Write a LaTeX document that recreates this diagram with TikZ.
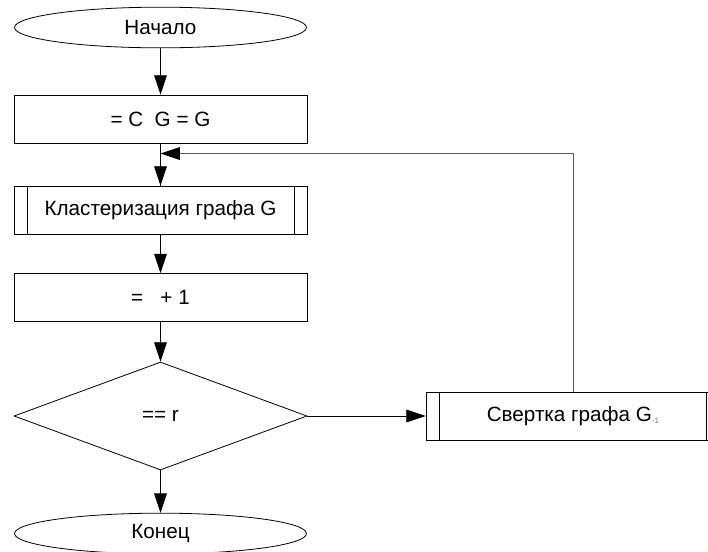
\documentclass[tikz,border=0pt]{standalone}
\usepackage{fontspec}
\setmainfont{Liberation Sans}
\usetikzlibrary{shapes.geometric,arrows.meta}
\begin{document}
\begin{tikzpicture}[x=0.75pt,y=-0.75pt,
  every node/.style={font=\fontsize{15.5}{17}\selectfont, inner sep=0pt},
  term/.style={draw, ellipse, minimum width=219pt, minimum height=30.5pt, line width=0.6pt},
  procbox/.style={draw, rectangle, minimum width=219.75pt, minimum height=36pt, line width=0.6pt},
  decis/.style={draw, diamond, minimum width=219.75pt, minimum height=81pt, line width=0.6pt},
  conn/.style={line width=0.6pt, -{Triangle[length=14.5pt,width=9.5pt,color=black]}},
  plain/.style={line width=0.6pt}]
\useasboundingbox (0,0) rectangle (708,551);
\clip (0,0) rectangle (708,551);
\node[term] (start) at (160.5,27.5) {Начало};
\node[procbox] (init) at (160.5,119) {= C\ \ G = G};
\node[procbox] (clust) at (160.5,210) {Кластеризация графа G};
\draw[plain] ([xshift=10pt]clust.north west) -- ([xshift=10pt]clust.south west);
\draw[plain] ([xshift=-10pt]clust.north east) -- ([xshift=-10pt]clust.south east);
\node[procbox] (inc) at (160.5,297.5) {=\ \ \ + 1};
\node[decis] (cond) at (160.5,416) {== r};
\node[term] (stop) at (160.5,533.5) {Конец};
\node[procbox, minimum width=220.5pt] (conv) at (573,416) {Свертка графа G\raisebox{-1.5pt}{\fontsize{6}{6}\selectfont\color{gray}-1}};
\draw[plain] ([xshift=10.5pt]conv.north west) -- ([xshift=10.5pt]conv.south west);
\draw[plain] ([xshift=-10.5pt]conv.north east) -- ([xshift=-10.5pt]conv.south east);
\coordinate (merge) at (160.5,153.5);
\coordinate (corner) at (573,153.5);
\draw[conn] (start) -- (init);
\draw[plain] (init) -- (clust);
\draw[conn] (clust) -- (inc);
\draw[conn] (inc) -- (cond);
\draw[conn] (cond) -- (stop);
\draw[conn] (cond.east) -- (conv.west);
\draw[conn, draw=black!65] (conv.north) -- (corner) -- (merge);
\draw[conn] (merge) -- (clust.north);
\end{tikzpicture}
\end{document}
